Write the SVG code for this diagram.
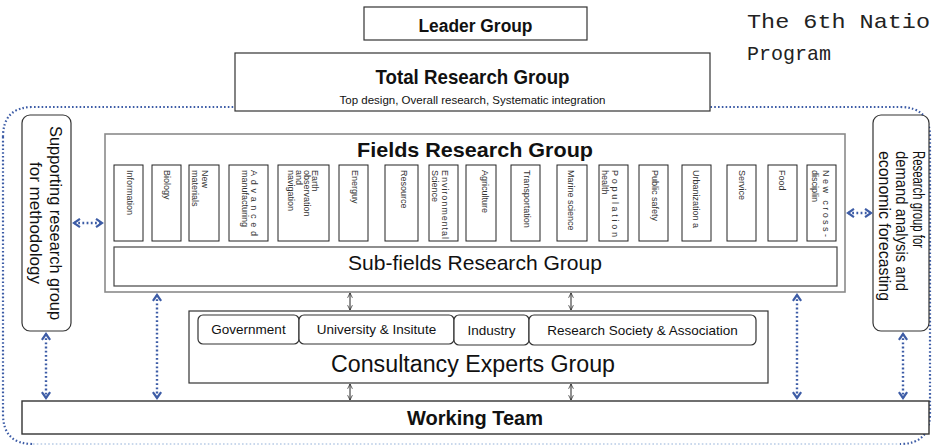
<svg xmlns="http://www.w3.org/2000/svg" width="933" height="447" viewBox="0 0 933 447">
<style>
.box{fill:#fff;stroke:#333;stroke-width:1.2}
.gbox{fill:#fff;stroke:#8a8a8a;stroke-width:1.6}
.fbox{fill:#fff;stroke:#222;stroke-width:1}
.rbox{fill:#fff;stroke:#333;stroke-width:1.2}
.t{font-family:"Liberation Sans",Arial,sans-serif;fill:#111}
.b{font-weight:bold}
.ft{font-family:"Liberation Sans",Arial,sans-serif;font-size:9px;fill:#333}
.mono{font-family:"Liberation Mono","DejaVu Sans Mono",monospace;font-size:21px;fill:#222}
.dot{fill:none;stroke:#3d5ca6;stroke-width:2.2;stroke-dasharray:1.6 2.2}
.adot{fill:none;stroke:#3d5ca6;stroke-width:2.4;stroke-dasharray:1.8 2.4}
.bl{fill:none;stroke:#222;stroke-width:1}
</style>
<defs>
<marker id="bch" viewBox="0 0 12 12" refX="9.5" refY="6" markerWidth="11" markerHeight="11" markerUnits="userSpaceOnUse" orient="auto-start-reverse">
<path d="M3,1.5 L9.5,6 L3,10.5" fill="none" stroke="#3d5ca6" stroke-width="2.4"/>
</marker>
<marker id="bk" viewBox="0 0 10 10" refX="9" refY="5" markerWidth="7" markerHeight="6" markerUnits="userSpaceOnUse" orient="auto-start-reverse">
<path d="M1,1 L9,5 L1,9" fill="none" stroke="#222" stroke-width="1.2"/>
</marker>
</defs>

<g id="boundary">
<path d="M3,137 Q3,107 33,107 L900,107 Q930,107 930,137 L930,414 Q930,444 900,444" class="dot"/>
<path d="M3,137 L3,414 Q3,444 33,444" class="dot"/>
<path d="M33,444 L900,444" fill="none" stroke="#b8cbe6" stroke-width="1.6" stroke-dasharray="1.6 2.2"/>
</g>

<g id="note">
<text class="mono" x="747" y="28" textLength="183" lengthAdjust="spacingAndGlyphs">The 6th Natio</text>
<text class="mono" x="747" y="60" textLength="84" lengthAdjust="spacingAndGlyphs">Program</text>
</g>

<g id="leader">
<rect class="box" x="364" y="7" width="223" height="33"/>
<text class="t b" x="475.5" y="32" font-size="18" text-anchor="middle" textLength="114" lengthAdjust="spacingAndGlyphs">Leader Group</text>
</g>

<g id="total">
<rect class="box" x="235" y="53" width="475" height="58"/>
<text class="t b" x="472.5" y="84" font-size="20.5" text-anchor="middle" textLength="194" lengthAdjust="spacingAndGlyphs">Total Research Group</text>
<text class="t" x="472.5" y="104" font-size="11.5" text-anchor="middle">Top design, Overall research, Systematic integration</text>
</g>

<g id="supporting">
<rect class="rbox" x="22" y="115" width="49" height="216" rx="8"/>
<text class="t" font-size="17" text-anchor="middle" transform="translate(49.5,223) rotate(90)" textLength="194" lengthAdjust="spacingAndGlyphs">Supporting research group</text>
<text class="t" font-size="17" text-anchor="middle" transform="translate(29.5,223) rotate(90)">for methodology</text>
</g>

<g id="demand">
<rect class="rbox" x="873" y="115" width="56" height="216" rx="8"/>
<text class="t" font-size="17" transform="translate(913,151) rotate(90)" textLength="97" lengthAdjust="spacingAndGlyphs">Research group for</text>
<text class="t" font-size="17" transform="translate(896,151) rotate(90)" textLength="140" lengthAdjust="spacingAndGlyphs">demand analysis and</text>
<text class="t" font-size="17" transform="translate(879,151) rotate(90)" textLength="150" lengthAdjust="spacingAndGlyphs">economic forecasting</text>
</g>

<g id="fields">
<rect class="gbox" x="105" y="134" width="740" height="158"/>
<text class="t b" x="475" y="157" font-size="20.5" text-anchor="middle" textLength="236" lengthAdjust="spacingAndGlyphs">Fields Research Group</text>
</g>

<g id="field-information"><rect class="fbox" x="114" y="165" width="29" height="76"/>
<text class="ft" transform="translate(127,170) rotate(90)">Information</text></g>
<g id="field-biology"><rect class="fbox" x="152" y="165" width="29" height="76"/>
<text class="ft" transform="translate(164,170) rotate(90)">Biology</text></g>
<g id="field-newmaterials"><rect class="fbox" x="189" y="165" width="30" height="76"/>
<text class="ft" transform="translate(202,170) rotate(90)">New</text>
<text class="ft" transform="translate(192,170) rotate(90)">materials</text></g>
<g id="field-advanced"><rect class="fbox" x="229" y="165" width="39" height="76"/>
<text class="ft" transform="translate(251,170) rotate(90)" textLength="66" lengthAdjust="spacing">Advanced</text>
<text class="ft" transform="translate(242,170) rotate(90)">manufacturing</text></g>
<g id="field-earth"><rect class="fbox" x="278" y="165" width="51" height="76"/>
<text class="ft" transform="translate(312,170) rotate(90)">Earth</text>
<text class="ft" transform="translate(304,170) rotate(90)">observation</text>
<text class="ft" transform="translate(296,170) rotate(90)">and</text>
<text class="ft" transform="translate(288,170) rotate(90)">navigation</text></g>
<g id="field-energy"><rect class="fbox" x="339" y="165" width="29" height="76"/>
<text class="ft" transform="translate(352,170) rotate(90)">Energuy</text></g>
<g id="field-resource"><rect class="fbox" x="385" y="165" width="33" height="76"/>
<text class="ft" transform="translate(401,170) rotate(90)">Resource</text></g>
<g id="field-environmental"><rect class="fbox" x="429" y="165" width="29" height="76"/>
<text class="ft" transform="translate(442,170) rotate(90)" textLength="69" lengthAdjust="spacing">Environmental</text>
<text class="ft" transform="translate(432,170) rotate(90)">Science</text></g>
<g id="field-agriculture"><rect class="fbox" x="466" y="165" width="30" height="76"/>
<text class="ft" transform="translate(482,170) rotate(90)">Agriculture</text></g>
<g id="field-transportation"><rect class="fbox" x="511" y="165" width="29" height="76"/>
<text class="ft" transform="translate(524,170) rotate(90)">Transportation</text></g>
<g id="field-marine"><rect class="fbox" x="557" y="165" width="30" height="76"/>
<text class="ft" transform="translate(568,170) rotate(90)">Marine science</text></g>
<g id="field-population"><rect class="fbox" x="599" y="165" width="29" height="76"/>
<text class="ft" transform="translate(612,170) rotate(90)" textLength="67" lengthAdjust="spacing">Population</text>
<text class="ft" transform="translate(602,170) rotate(90)">health</text></g>
<g id="field-publicsafety"><rect class="fbox" x="639" y="165" width="29" height="76"/>
<text class="ft" transform="translate(652,170) rotate(90)">Public safety</text></g>
<g id="field-urbanization"><rect class="fbox" x="682" y="165" width="29" height="76"/>
<text class="ft" transform="translate(693,170) rotate(90)">Urbanization a</text></g>
<g id="field-service"><rect class="fbox" x="727" y="165" width="29" height="76"/>
<text class="ft" transform="translate(739,170) rotate(90)">Service</text></g>
<g id="field-food"><rect class="fbox" x="768" y="165" width="29" height="76"/>
<text class="ft" transform="translate(779,170) rotate(90)">Food</text></g>
<g id="field-newcross"><rect class="fbox" x="807" y="165" width="29" height="76"/>
<text class="ft" transform="translate(823,170) rotate(90)" textLength="67" lengthAdjust="spacing">New cross-</text>
<text class="ft" transform="translate(812,170) rotate(90)">disciplin</text></g>

<g id="subfields">
<rect x="114" y="247" width="723" height="39" fill="#fff" stroke="#444" stroke-width="1.2"/>
<text class="t" x="475" y="270" font-size="21" text-anchor="middle" textLength="254" lengthAdjust="spacingAndGlyphs">Sub-fields Research Group</text>
</g>

<g id="consultancy">
<rect class="box" x="189" y="311" width="579" height="72"/>
<text class="t" x="473" y="372" font-size="23" text-anchor="middle" textLength="284" lengthAdjust="spacingAndGlyphs">Consultancy Experts Group</text>
</g>
<g id="government">
<rect class="box" x="198" y="315" width="101" height="29" rx="5"/>
<text class="t" x="248.5" y="334" font-size="13.5" text-anchor="middle">Government</text>
</g>
<g id="university">
<rect class="box" x="299" y="315" width="155" height="29" rx="5"/>
<text class="t" x="376.5" y="334" font-size="13.5" text-anchor="middle">University &amp; Insitute</text>
</g>
<g id="industry">
<rect class="box" x="454" y="315" width="75" height="30" rx="5"/>
<text class="t" x="491.5" y="335" font-size="13.5" text-anchor="middle">Industry</text>
</g>
<g id="society">
<rect class="box" x="529" y="315" width="227" height="30" rx="5"/>
<text class="t" x="642.5" y="335" font-size="13.5" text-anchor="middle">Research Society &amp; Association</text>
</g>

<g id="working">
<rect x="22" y="401" width="907" height="33" fill="#fff" stroke="#333" stroke-width="1.4"/>
<text class="t b" x="475" y="425" font-size="21" text-anchor="middle" textLength="136" lengthAdjust="spacingAndGlyphs">Working Team</text>
</g>

<g id="connectors">
<line class="adot" x1="74" y1="223" x2="102" y2="223" marker-start="url(#bch)" marker-end="url(#bch)"/>
<line class="adot" x1="848" y1="213" x2="871" y2="213" marker-start="url(#bch)" marker-end="url(#bch)"/>
<line class="adot" x1="46" y1="334" x2="46" y2="398" marker-start="url(#bch)" marker-end="url(#bch)"/>
<line class="adot" x1="157" y1="295" x2="157" y2="398" marker-start="url(#bch)" marker-end="url(#bch)"/>
<line class="adot" x1="797" y1="295" x2="797" y2="398" marker-start="url(#bch)" marker-end="url(#bch)"/>
<line class="adot" x1="903" y1="334" x2="903" y2="398" marker-start="url(#bch)" marker-end="url(#bch)"/>
<line class="bl" x1="350" y1="293" x2="350" y2="310" marker-start="url(#bk)" marker-end="url(#bk)"/>
<line class="bl" x1="571" y1="293" x2="571" y2="310" marker-start="url(#bk)" marker-end="url(#bk)"/>
<line class="bl" x1="350" y1="384" x2="350" y2="400" marker-start="url(#bk)" marker-end="url(#bk)"/>
<line class="bl" x1="571" y1="384" x2="571" y2="400" marker-start="url(#bk)" marker-end="url(#bk)"/>
</g>
</svg>
